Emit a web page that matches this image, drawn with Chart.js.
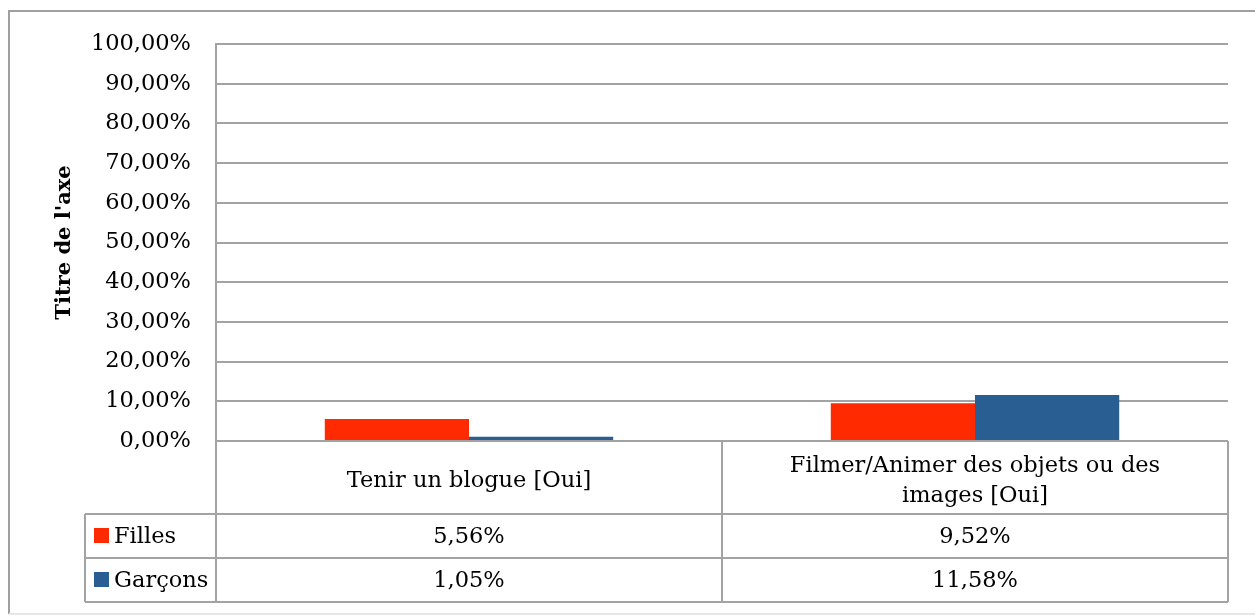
<!DOCTYPE html>
<html>
<head>
<meta charset="utf-8">
<script src="https://cdn.jsdelivr.net/npm/chart.js@4"></script>
<style>
    body { margin: 0; background: #fff; }
    #wrap { position: relative; width: 1255px; height: 615px; }
</style>
</head>
<body>
<div id="wrap"><canvas id="chart"></canvas></div>
<script>
// Chart data
const categories = [['Tenir un blogue [Oui]'], ['Filmer/Animer des objets ou des', 'images [Oui]']];
const seriesNames = ['Filles', 'Garçons'];
const filles = [5.56, 9.52];
const garcons = [1.05, 11.58];
const seriesColors = ['#FF2A00', '#285E91'];

const FONT = 'DejaVu Serif';
const FONT_SIZE = 22.5;
const LINE = '#a3a3a3';

function fmt(v) {
    return v.toFixed(2).replace('.', ',') + '%';
}

// Draws the Excel-like data table under the plot, plus the outer frame
const tablePlugin = {
    id: 'dataTable',
    beforeDraw(chart) {
        const ctx = chart.ctx;
        ctx.save();
        ctx.fillStyle = '#fff';
        ctx.fillRect(0, 0, chart.width, chart.height);
        ctx.restore();
    },
    afterDraw(chart) {
        const ctx = chart.ctx;
        const area = chart.chartArea;
        const xScale = chart.scales.x;
        const n = categories.length;
        const half = (area.right - area.left) / (2 * n);
        const rowCat = area.bottom + 73;
        const rowH = 44;
        const legendLeft = 85;
        const rows = [filles, garcons];

        ctx.save();
        // outer frame
        ctx.strokeStyle = '#a0a0a0';
        ctx.lineWidth = 2;
        ctx.beginPath();
        ctx.moveTo(9, 614);
        ctx.lineTo(9, 11);
        ctx.lineTo(chart.width, 11);
        ctx.stroke();
        ctx.strokeStyle = '#e6e6e6';
        ctx.beginPath();
        ctx.moveTo(9, 614);
        ctx.lineTo(chart.width, 614);
        ctx.stroke();

        // table grid
        ctx.strokeStyle = LINE;
        ctx.lineWidth = 2;
        const bottom = rowCat + rowH * rows.length;
        ctx.beginPath();
        ctx.moveTo(area.left, area.bottom);
        ctx.lineTo(area.left, bottom);
        for (let i = 0; i < n; i++) {
            const edge = xScale.getPixelForValue(i) + half;
            ctx.moveTo(edge, area.bottom);
            ctx.lineTo(edge, bottom);
        }
        for (let r = 0; r <= rows.length; r++) {
            ctx.moveTo(legendLeft, rowCat + rowH * r);
            ctx.lineTo(area.right, rowCat + rowH * r);
        }
        ctx.moveTo(legendLeft, rowCat);
        ctx.lineTo(legendLeft, bottom);
        ctx.stroke();

        // category labels
        ctx.fillStyle = '#000';
        ctx.font = FONT_SIZE + 'px "' + FONT + '"';
        ctx.textAlign = 'center';
        ctx.textBaseline = 'middle';
        const catMid = (area.bottom + rowCat) / 2 + 4;
        categories.forEach((lines, i) => {
            const cx = xScale.getPixelForValue(i);
            const lh = 30;
            const startY = catMid - (lines.length - 1) * lh / 2;
            lines.forEach((t, k) => ctx.fillText(t, cx, startY + k * lh));
        });

        // series rows
        rows.forEach((vals, r) => {
            const cy = rowCat + rowH * r + rowH / 2 + 1;
            ctx.fillStyle = seriesColors[r];
            ctx.fillRect(94, cy - 9, 15, 15);
            ctx.fillStyle = '#000';
            ctx.textAlign = 'left';
            ctx.fillText(seriesNames[r], 114, cy);
            ctx.textAlign = 'center';
            vals.forEach((v, i) => ctx.fillText(fmt(v), xScale.getPixelForValue(i), cy));
        });
        ctx.restore();
    }
};

const chart = new Chart(document.getElementById('chart'), {
    type: 'bar',
    data: {
        labels: categories.map(c => c.join(' ')),
        datasets: [
            { label: seriesNames[0], data: filles, backgroundColor: seriesColors[0] },
            { label: seriesNames[1], data: garcons, backgroundColor: seriesColors[1] }
        ]
    },
    options: {
        responsive: true,
        maintainAspectRatio: false,
        animation: false,
        categoryPercentage: 0.57,
        barPercentage: 1.0,
        layout: { padding: { left: 0, top: 44, right: 27, bottom: 174 } },
        plugins: {
            legend: { display: false },
            tooltip: { enabled: false }
        },
        scales: {
            x: { display: false },
            y: {
                min: 0,
                max: 100,
                afterFit: scale => { scale.width = 216; },
                ticks: {
                    stepSize: 10,
                    padding: 25,
                    color: '#000',
                    font: { family: FONT, size: FONT_SIZE },
                    callback: v => fmt(v)
                },
                grid: { color: LINE, lineWidth: 2, drawTicks: false },
                border: { color: LINE, width: 2 },
                title: {
                    display: true,
                    text: "Titre de l'axe",
                    color: '#000',
                    font: { family: FONT, size: 21, weight: 'bold' },
                    padding: { top: 52, bottom: 0 }
                }
            }
        }
    },
    plugins: [tablePlugin]
});
</script>
</body>
</html>
